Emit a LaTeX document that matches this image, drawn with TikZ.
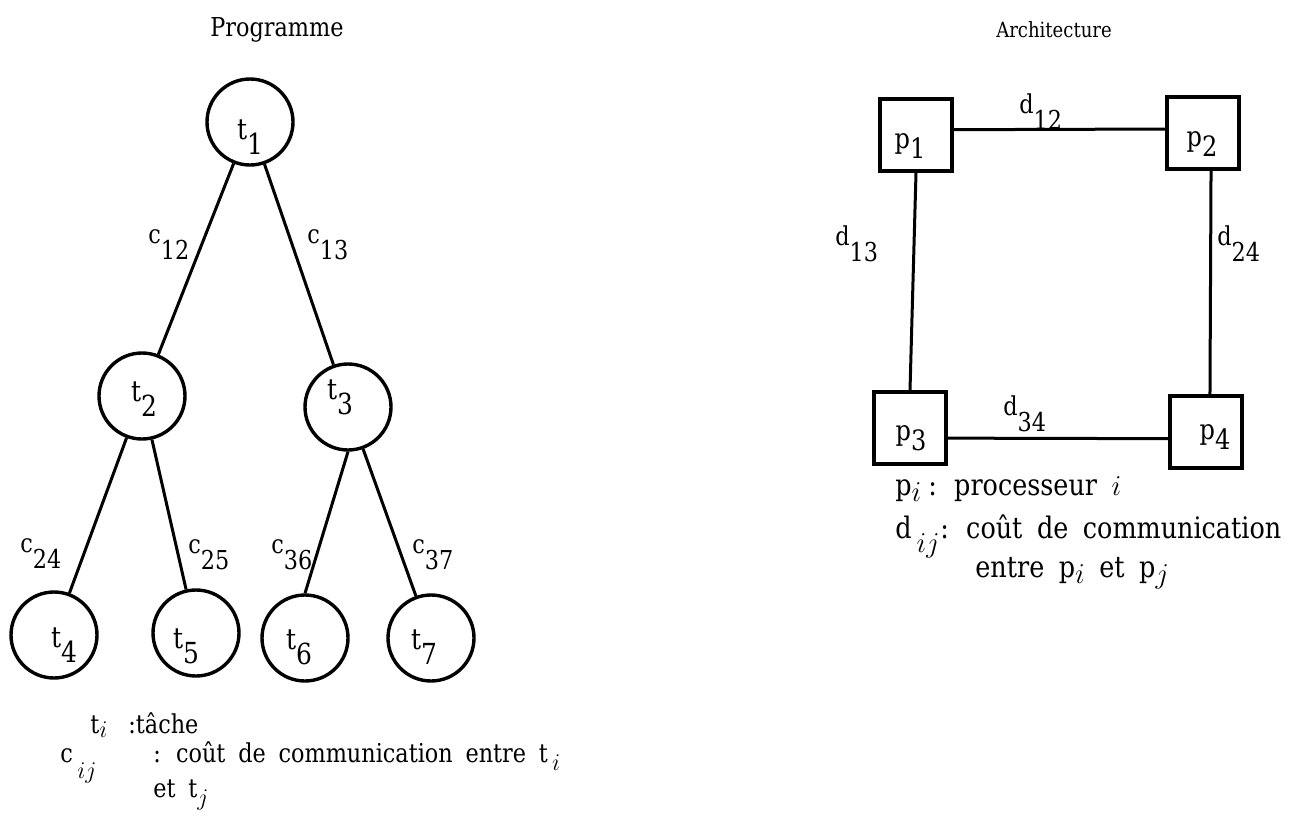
\documentclass[tikz,border=0pt]{standalone}
\usepackage{fontspec}
\setmainfont[FakeStretch=0.86]{DejaVu Serif}
\newfontfamily\spacedfont[FakeStretch=0.86, WordSpace=1.8]{DejaVu Serif}
\newcommand\lsub[2][7pt]{\raisebox{-#1}{#2}}
\tikzset{
 task/.style={circle, draw, line width=1.7pt, minimum size=43pt, inner sep=0pt},
 proc/.style={rectangle, draw, line width=1.8pt, minimum width=36pt, minimum height=36pt, inner sep=0pt},
 link/.style={line width=1.5pt},
 tlab/.style={inner sep=0pt, font=\fontsize{14.5}{17}\selectfont},
 plab/.style={inner sep=0pt, font=\fontsize{14}{17}\selectfont},
 elab/.style={inner sep=0pt, anchor=base west, font=\fontsize{13}{15}\selectfont},
 ttl/.style={inner sep=0pt, font=\fontsize{13}{16}\selectfont},
 legl/.style={inner sep=0pt, anchor=base west, font=\spacedfont\fontsize{13}{16}\selectfont},
 legr/.style={inner sep=0pt, anchor=base west, font=\spacedfont\fontsize{14.8}{18}\selectfont},
}
\begin{document}
\begin{tikzpicture}[x=0.5pt,y=-0.5pt]
\path[use as bounding box] (0,0) rectangle (1301,825);
% titles
\node[ttl] (prog) at (277,30) {Programme};
\node[ttl, font=\fontsize{10.5}{13}\selectfont] (arch) at (1054,30) {Architecture};
% task graph
\node[task] (t1) at (250,122) {};
\node[task] (t2) at (142,396) {};
\node[task] (t3) at (348,407) {};
\node[task] (t4) at (54,635) {};
\node[task] (t5) at (196,633) {};
\node[task] (t6) at (305,638) {};
\node[task] (t7) at (431,638) {};
\node[tlab] (l1) at (250,137) {t\lsub[7.5pt]{1}};
\node[tlab] (l2) at (144,399) {t\lsub[7.5pt]{2}};
\node[tlab] (l3) at (340,397) {t\lsub[7.5pt]{3}};
\node[tlab] (l4) at (64,645) {t\lsub[7.5pt]{4}};
\node[tlab] (l5) at (186,646) {t\lsub[7.5pt]{5}};
\node[tlab] (l6) at (299,647) {t\lsub[7.5pt]{6}};
\node[tlab] (l7) at (424,647) {t\lsub[7.5pt]{7}};
\draw[link] (t1) -- (t2);
\draw[link] (t1) -- (t3);
\draw[link] (t2) -- (t4);
\draw[link] (t2) -- (t5);
\draw[link] (t3.south) -- (t6.north);
\draw[link] (t3) -- (t7);
\node[elab] (c12) at (148,243) {c\lsub[8pt]{12}};
\node[elab] (c13) at (307,243) {c\lsub[8pt]{13}};
\node[elab] (c24) at (20,552) {c\lsub[8pt]{24}};
\node[elab] (c25) at (188,553) {c\lsub[8pt]{25}};
\node[elab] (c36) at (271,553) {c\lsub[8pt]{36}};
\node[elab] (c37) at (412,553) {c\lsub[8pt]{37}};
% legend left
\node[legl] (lt) at (90,733) {t\lsub[2pt]{$i$}};
\node[legl] (ltd) at (128,733) {:tâche};
\node[legl] (lc) at (60,762) {c\,\lsub[8pt]{$ij$}};
\node[legl] (lcd) at (153,762) {: coût de communication entre t\,\lsub[4pt]{$i$}};
\node[legl] (lcd2) at (153,797) {et t\lsub[4pt]{$j$}};
% architecture
\node[proc] (p1) at (916,135) {};
\node[proc] (p2) at (1203,133) {};
\node[proc] (p3) at (910,428) {};
\node[proc] (p4) at (1206,432) {};
\node[plab] (lp1) at (910,146) {p\lsub[5pt]{1}};
\node[plab] (lp2) at (1202,144) {p\lsub[5pt]{2}};
\node[plab] (lp3) at (911,438) {p\lsub[5pt]{3}};
\node[plab] (lp4) at (1215,437) {p\lsub[5pt]{4}};
\draw[link] (p1.8) -- (p2.174);
\draw[link] (p1.south) -- (p3.north);
\draw[link] (p2.-78) -- (p4.84);
\draw[link] (p3.-15) -- (p4.-170);
\node[elab] (d12) at (1019,113) {d\lsub[8pt]{12}};
\node[elab] (d13) at (835,245) {d\lsub[8pt]{13}};
\node[elab] (d24) at (1217,245) {d\lsub[8pt]{24}};
\node[elab] (d34) at (1003,415) {d\lsub[8pt]{34}};
% legend right
\node[legr] (lp) at (895,495) {p\lsub[3pt]{$i$}};
\node[legr] (lpd) at (928,495) {: processeur $i$};
\node[legr] (ld) at (895,538) {d\,\lsub[7pt]{$ij$}};
\node[legr] (ldd) at (940,538) {: coût de communication};
\node[legr] (ldd2) at (975,577) {entre p\lsub[3pt]{$i$} et p\lsub[3pt]{$j$}};
\end{tikzpicture}
\end{document}
